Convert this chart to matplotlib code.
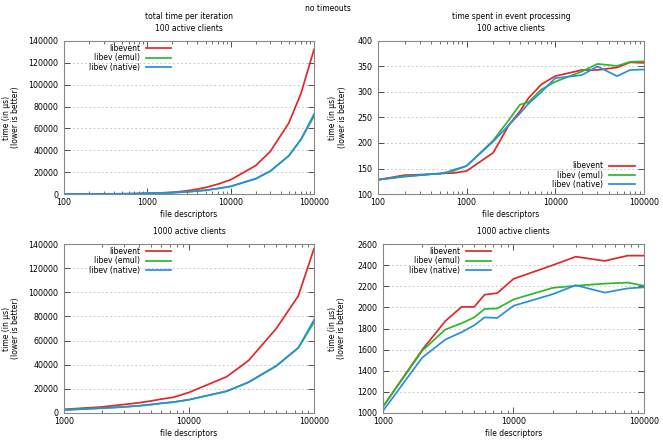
import matplotlib
matplotlib.use('Agg')
import matplotlib.pyplot as plt
from matplotlib.ticker import LogLocator, FixedLocator, NullFormatter

# file descriptor counts
fds_100 = [100, 200, 300, 400, 500, 600, 700, 1000, 2000, 3000, 4000, 5000,
           7000, 10000, 20000, 30000, 50000, 70000, 100000]
fds_1000 = [1000, 2000, 3000, 4000, 5000, 6000, 7500, 10000, 20000, 30000,
            50000, 75000, 100000]

# total time per iteration, 100 active clients
total_100_libevent = [50, 100, 150, 200, 250, 300, 380, 500, 1500, 3000, 4500, 6000,
                      9000, 13000, 26000, 39000, 65000, 92000, 132000]
total_100_emul = [40, 80, 120, 160, 200, 250, 300, 700, 1300, 2000, 2800, 3500,
                  5000, 7000, 14000, 21000, 35000, 50000, 71000]
total_100_native = [40, 80, 120, 160, 200, 250, 300, 700, 1300, 2000, 2800, 3500,
                    5000, 7000, 14000, 21000, 35000, 50000, 73000]

# time spent in event processing, 100 active clients
proc_100_libevent = [128, 137, 138, 139, 140, 141, 141, 145, 181, 235, 262, 288,
                     315, 331, 343, 343, 348, 358, 357]
proc_100_emul = [128, 135, 137, 139, 140, 143, 145, 155, 205, 245, 275, 280,
                 305, 320, 340, 355, 351, 359, 360]
proc_100_native = [128, 134, 137, 139, 140, 142, 147, 155, 203, 235, 258, 277,
                   300, 327, 333, 350, 331, 343, 344]

# total time per iteration, 1000 active clients
total_1000_libevent = [3000, 5000, 7000, 8500, 10000, 11500, 13000, 17000, 30000,
                       43500, 70000, 97000, 136000]
total_1000_emul = [2500, 4000, 5000, 6000, 7000, 8000, 9000, 11000, 18000,
                   25500, 39000, 54000, 75000]
total_1000_native = [2500, 4000, 5000, 6000, 7000, 8000, 9000, 11000, 18000,
                     25500, 39000, 54000, 77000]

# time spent in event processing, 1000 active clients
proc_1000_libevent = [1060, 1600, 1870, 2005, 2005, 2120, 2135, 2270, 2400, 2480,
                      2440, 2490, 2490]
proc_1000_emul = [1060, 1590, 1790, 1850, 1905, 1985, 1990, 2075, 2185, 2205,
                  2225, 2235, 2205]
proc_1000_native = [1020, 1525, 1695, 1765, 1830, 1905, 1900, 2015, 2125, 2210,
                    2140, 2180, 2190]

labels = ['libevent', 'libev (emul)', 'libev (native)']
colors = ['#e02828', '#2cb82c', '#2a8ee0']

FS = 5.5
plt.rcParams['font.family'] = 'DejaVu Sans'
plt.rcParams['font.size'] = FS

fig = plt.figure(figsize=(6.63, 4.40), dpi=100)
fig.text(0.495, 0.99, 'no timeouts', ha='center', va='top', fontsize=FS)


def draw_panel(rect, x, series, xlim, ylim, ystep, title, legend_loc, legend_anchor, ylab_x):
    ax = fig.add_axes(rect)
    for y, lab, col in zip(series, labels, colors):
        ax.plot(x, y, color=col, lw=1.25, label=lab)
    ax.set_xscale('log')
    ax.set_xlim(*xlim)
    ax.set_ylim(*ylim)
    ax.xaxis.set_major_locator(LogLocator(base=10))
    ax.xaxis.set_minor_locator(LogLocator(base=10, subs=range(2, 10)))
    ax.xaxis.set_minor_formatter(NullFormatter())
    ax.xaxis.set_major_formatter(matplotlib.ticker.FuncFormatter(lambda v, p: '%d' % v))
    yt = list(range(ylim[0], ylim[1] + 1, ystep))
    ax.yaxis.set_major_locator(FixedLocator(yt))
    ax.tick_params(which='both', direction='in', top=True, right=True,
                   colors='#333333', labelcolor='black', labelsize=FS + 0.2)
    ax.tick_params(which='major', length=4, width=0.6, pad=4)
    ax.tick_params(axis='x', which='major', pad=3)
    ax.tick_params(which='minor', length=2, width=0.5)
    for s in ax.spines.values():
        s.set_color('#888888')
        s.set_linewidth(0.8)
    ax.grid(axis='y', ls=(0, (2, 3)), color='#bbbbbb', lw=0.6)
    ax.set_axisbelow(True)
    ax.set_title(title, fontsize=FS, pad=7, linespacing=1.4)
    ax.set_xlabel('file descriptors', fontsize=FS, labelpad=2)
    ax.set_ylabel('time (in \u00b5s)\n(lower is better)', fontsize=FS, linespacing=1.05)
    ax.yaxis.set_label_coords(ylab_x, 0.5)
    ax.legend(loc=legend_loc, bbox_to_anchor=legend_anchor, frameon=False,
              markerfirst=False, fontsize=FS, handlelength=3.3, handletextpad=0.8,
              labelspacing=0.05, borderaxespad=0.0)
    return ax


draw_panel([0.0965, 0.559, 0.377, 0.348], fds_100,
           [total_100_libevent, total_100_emul, total_100_native],
           (100, 100000), (0, 140000), 20000,
           'total time per iteration\n100 active clients', 'upper left', (0.088, 1.0), -0.176)
draw_panel([0.570, 0.559, 0.401, 0.348], fds_100,
           [proc_100_libevent, proc_100_emul, proc_100_native],
           (100, 100000), (100, 400), 50,
           'time spent in event processing\n100 active clients', 'lower right', (0.977, 0.013), -0.117)
draw_panel([0.0965, 0.0614, 0.377, 0.384], fds_1000,
           [total_1000_libevent, total_1000_emul, total_1000_native],
           (1000, 100000), (0, 140000), 20000,
           '1000 active clients', 'upper left', (0.088, 1.0), -0.176)
draw_panel([0.5777, 0.0614, 0.3936, 0.384], fds_1000,
           [proc_1000_libevent, proc_1000_emul, proc_1000_native],
           (1000, 100000), (1000, 2600), 200,
           '1000 active clients', 'upper left', (0.088, 1.0), -0.142)

fig.savefig('out.png', dpi=100)
